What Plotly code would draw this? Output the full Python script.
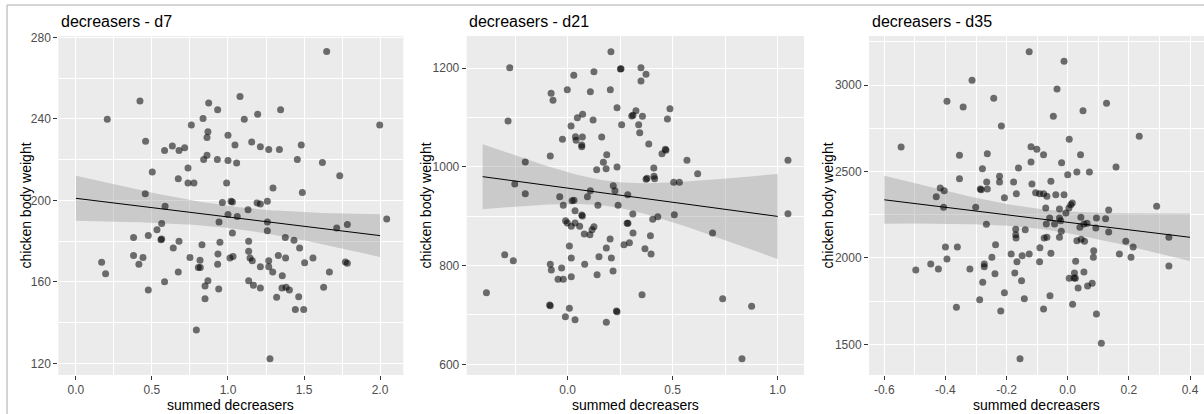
import numpy as np
import plotly.graph_objects as go

# ---------------- data ----------------
panel_titles = ["decreasers - d7", "decreasers - d21", "decreasers - d35"]
x_title = "summed decreasers"
y_title = "chicken body weight"

# tick values / labels of each panel
d7_xticks = [0.0, 0.5, 1.0, 1.5, 2.0]
d7_xlabels = ["0.0", "0.5", "1.0", "1.5", "2.0"]
d21_xticks = [0.0, 0.5, 1.0]
d21_xlabels = ["0.0", "0.5", "1.0"]
d35_xticks = [-0.6, -0.4, -0.2, 0.0, 0.2, 0.4]
d35_xlabels = ["-0.6", "-0.4", "-0.2", "0.0", "0.2", "0.4"]
d7_yticks = [120, 160, 200, 240, 280]
d21_yticks = [600, 800, 1000, 1200]
d35_yticks = [1500, 2000, 2500, 3000]

d7_x = [1.649, 0.421, 0.206, 0.873, 0.932, 1.079, 1.107, 1.195, 1.346, 1.998,
        0.836, 0.759, 0.868, 0.862, 0.458, 0.634, 0.583, 0.678, 0.715, 1.000,
        1.046, 1.156, 1.213, 1.268, 1.338, 1.482, 0.862, 0.840, 0.930, 1.000,
        1.057, 1.456, 1.621, 1.735, 0.502, 0.737, 0.673, 0.737, 0.776, 0.991,
        1.296, 0.456, 1.489, 0.963, 1.020, 1.029, 1.191, 1.213, 1.259, 0.586,
        1.132, 1.000, 1.061, 2.044, 0.564, 0.941, 1.259, 1.785, 0.533, 1.259,
        1.715, 1.029, 0.379, 0.476, 0.564, 0.559, 0.678, 0.947, 1.136, 1.377,
        1.434, 0.829, 0.640, 1.471, 1.136, 0.934, 1.331, 0.379, 0.441, 0.750,
        1.013, 1.033, 1.145, 1.379, 1.559, 0.169, 0.414, 0.816, 1.160, 1.268,
        1.504, 1.772, 1.785, 0.805, 0.818, 1.213, 1.268, 1.294, 0.673, 1.667,
        0.195, 1.357, 1.136, 0.583, 0.868, 1.167, 0.849, 1.213, 1.355, 1.382,
        1.404, 1.629, 0.476, 0.939, 0.849, 1.320, 1.465, 1.443, 1.498, 0.792,
        1.276, 0.932]
d7_y = [273.0, 248.7, 239.8, 247.8, 244.5, 251.0, 239.8, 242.2, 244.5, 237.0,
        240.2, 237.0, 233.7, 230.9, 229.0, 226.7, 224.5, 224.5, 225.8, 231.9,
        227.2, 228.6, 226.3, 224.9, 224.9, 227.2, 222.1, 220.0, 220.0, 219.6,
        218.3, 220.0, 218.6, 212.1, 213.9, 215.9, 210.6, 208.5, 208.5, 208.5,
        206.1, 203.3, 203.8, 199.0, 199.5, 199.2, 198.7, 198.2, 199.5, 197.1,
        195.4, 193.0, 192.1, 190.8, 188.7, 189.4, 189.4, 188.1, 185.6, 185.1,
        186.4, 184.0, 181.8, 182.7, 181.0, 180.7, 179.9, 179.4, 179.9, 181.8,
        180.4, 178.2, 176.6, 176.6, 175.0, 173.7, 173.0, 173.0, 172.0, 172.0,
        171.7, 172.5, 171.7, 171.7, 171.7, 169.6, 168.6, 170.6, 170.4, 170.4,
        169.4, 169.7, 169.1, 167.1, 167.1, 167.4, 167.4, 164.8, 164.8, 164.8,
        164.0, 163.0, 160.6, 160.1, 160.6, 158.4, 158.0, 157.0, 157.0, 157.3,
        156.0, 157.3, 156.0, 156.5, 151.7, 152.4, 152.7, 146.5, 146.5, 136.4,
        122.3, 168.6]

d21_x = [0.206, -0.276, 0.251, 0.254, 0.349, 0.373, 0.349, 0.029, 0.125, -0.002,
         0.108, 0.203, -0.079, -0.070, 0.235, 0.487, 0.325, 0.305, 0.311, 0.356,
         0.046, 0.071, 0.121, 0.475, -0.284, 0.016, 0.257, 0.338, 0.343, -0.025,
         0.037, 0.070, 0.040, 0.067, 0.067, 0.162, 0.386, 0.465, 0.449, 0.186,
         0.170, 0.138, 0.183, 0.235, -0.083, -0.202, 0.410, 0.373, 0.378, 0.411,
         0.414, 0.468, 0.568, 0.619, 0.505, 0.532, 1.049, -0.252, -0.202, 0.108,
         0.217, 0.225, 0.286, -0.038, 0.021, 0.030, 0.094, -0.021, 0.144, 0.240,
         0.035, 0.070, 0.067, -0.010, -0.002, 0.035, 0.017, 0.057, 0.125, 0.116,
         0.079, 0.106, 0.283, 0.287, 0.310, 0.429, 0.405, 0.508, 1.049, 0.690,
         0.311, 0.394, 0.202, 0.008, 0.184, 0.268, 0.294, 0.397, 0.368, -0.300,
         -0.259, 0.017, 0.149, 0.208, -0.083, -0.078, -0.029, -0.046, -0.021, 0.017,
         0.081, 0.140, 0.216, -0.387, -0.086, -0.083, 0.008, -0.011, 0.035, 0.184,
         0.235, 0.232, 0.354, 0.738, 0.876, 0.830]
d21_y = [1233.1, 1200.7, 1198.0, 1198.7, 1200.7, 1187.2, 1173.7, 1185.2, 1192.6, 1156.1,
         1152.1, 1156.1, 1148.7, 1134.5, 1119.7, 1117.7, 1113.6, 1102.8, 1104.2, 1102.1,
         1099.4, 1106.2, 1094.7, 1096.7, 1092.7, 1082.6, 1085.3, 1085.3, 1069.1, 1055.6,
         1061.0, 1060.3, 1053.5, 1044.1, 1040.7, 1060.3, 1046.1, 1035.3, 1026.5, 1024.5,
         1009.0, 994.1, 996.2, 999.5, 1021.8, 1009.7, 997.5, 974.6, 976.6, 980.7,
         975.9, 1033.3, 1013.0, 986.1, 968.5, 968.5, 1013.0, 965.1, 945.6, 951.6,
         961.8, 951.6, 943.5, 939.5, 931.4, 932.1, 939.5, 921.9, 921.9, 921.9,
         911.1, 900.3, 902.4, 890.9, 886.2, 886.2, 879.4, 879.4, 878.7, 872.7,
         863.9, 862.5, 885.5, 885.5, 904.4, 899.0, 893.6, 903.0, 905.1, 865.9,
         865.9, 860.5, 853.8, 839.6, 835.5, 842.3, 846.3, 823.4, 834.2, 822.0,
         809.9, 815.3, 818.0, 815.3, 802.5, 791.0, 795.0, 772.1, 772.1, 777.5,
         802.5, 781.5, 789.0, 745.1, 720.1, 718.8, 713.4, 696.5, 690.4, 685.0,
         706.6, 707.9, 741.1, 733.0, 717.4, 611.5]

d35_x = [-0.126, -0.012, -0.313, -0.035, -0.395, -0.342, -0.242, -0.047, 0.050, 0.127,
         -0.217, 0.005, 0.234, -0.545, -0.120, -0.101, -0.354, -0.263, -0.079, 0.042,
         -0.279, -0.161, -0.120, -0.020, 0.000, 0.030, 0.071, 0.158, -0.354, -0.265,
         -0.223, -0.223, -0.177, -0.117, -0.055, -0.417, -0.404, -0.430, -0.286, -0.283,
         -0.263, -0.207, -0.168, -0.105, -0.092, -0.079, -0.068, -0.039, -0.012, -0.406,
         -0.301, -0.072, -0.027, 0.004, 0.015, 0.010, 0.134, 0.291, -0.059, -0.027,
         -0.006, 0.043, 0.094, 0.124, -0.266, -0.070, -0.043, -0.023, 0.040, 0.053,
         0.063, 0.092, 0.134, -0.170, -0.170, -0.169, -0.139, -0.077, -0.068, -0.027,
         -0.021, 0.030, 0.044, 0.055, 0.190, 0.214, 0.331, -0.400, -0.361, -0.236,
         -0.091, -0.395, -0.248, -0.185, -0.149, -0.126, -0.055, 0.085, 0.084, 0.169,
         0.207, -0.448, -0.273, -0.273, -0.166, -0.092, 0.026, -0.497, -0.423, -0.320,
         -0.238, -0.278, -0.173, -0.151, -0.207, -0.288, -0.364, -0.219, -0.142, -0.058,
         -0.079, 0.022, 0.021, 0.005, 0.025, 0.053, 0.034, 0.065, 0.080, 0.016,
         0.094, 0.110, -0.156, 0.331]
d35_y = [3192.8, 3136.9, 3027.0, 2976.9, 2905.5, 2872.8, 2922.9, 2818.8, 2851.5, 2894.0,
         2762.9, 2685.7, 2703.1, 2641.4, 2643.3, 2627.9, 2593.2, 2602.8, 2597.0, 2597.0,
         2516.1, 2519.9, 2554.6, 2550.8, 2481.4, 2496.8, 2496.8, 2525.7, 2458.2, 2438.9,
         2471.7, 2438.9, 2438.9, 2427.4, 2442.8, 2404.2, 2388.8, 2354.1, 2398.5, 2394.6,
         2398.5, 2348.3, 2371.5, 2377.3, 2371.5, 2371.5, 2356.0, 2365.7, 2365.7, 2292.4,
         2292.4, 2288.6, 2282.8, 2288.6, 2317.5, 2307.8, 2277.0, 2298.2, 2230.7, 2230.7,
         2259.6, 2234.6, 2230.7, 2226.9, 2194.1, 2196.0, 2196.0, 2215.3, 2176.7, 2196.0,
         2199.9, 2172.9, 2149.7, 2165.2, 2134.3, 2115.0, 2163.2, 2115.0, 2118.9, 2118.9,
         2153.6, 2099.6, 2107.3, 2095.8, 2095.8, 2063.0, 2118.9, 2063.0, 2063.0, 2076.5,
         2059.1, 1993.6, 2003.2, 2022.5, 2012.9, 2022.5, 2026.4, 2041.8, 2003.2, 2022.5,
         2003.2, 1964.7, 1964.7, 1949.2, 1978.2, 1978.2, 1980.1, 1930.0, 1935.7, 1935.7,
         1908.7, 1858.6, 1912.6, 1868.3, 1798.8, 1758.4, 1714.0, 1692.8, 1764.1, 1781.5,
         1704.4, 1912.6, 1883.7, 1881.7, 1881.7, 1918.4, 1825.8, 1837.4, 1852.8, 1731.4,
         1675.5, 1505.8, 1417.1, 1953.1]

# fitted lm line: x extent and y at both ends
fit_x = [[0.0, 2.0], [-0.405, 1.0], [-0.6, 0.4]]
fit_y = [[201.0, 182.7], [980.0, 899.5], [2336.0, 2119.0]]
# half-width of the 95% band at both ends of the line
band_half = [[11.0, 10.5], [65.5, 86.5], [140.0, 136.0]]

panels_x = [d7_x, d21_x, d35_x]
panels_y = [d7_y, d21_y, d35_y]
xtick_vals = [d7_xticks, d21_xticks, d35_xticks]
xtick_text = [d7_xlabels, d21_xlabels, d35_xlabels]
ytick_vals = [d7_yticks, d21_yticks, d35_yticks]

# ---------------- layout geometry ----------------
W, H = 1204, 414
FONT = "Liberation Sans, Arial, sans-serif"
plot_px = [(58.3, 403.3), (466.7, 804.0), (869.0, 1204.0)]
plot_top, plot_bot = 36.0, 375.0
x_ranges = [[-0.116, 2.153], [-0.481, 1.1254], [-0.650, 0.4458]]
y_ranges = [[114.3, 280.65], [578.4, 1264.8], [1322.6, 3283.4]]
x_minor = [0.25, 0.25, 0.1]
y_minor = [20, 100, 250]
ytitle_px = [25, 425, 827]
title_px = [59, 467, 870]

fig = go.Figure()

T975 = 1.98
for i in range(3):
    xs = np.array(panels_x[i], dtype=float)
    ys = np.array(panels_y[i], dtype=float)
    ax = "" if i == 0 else str(i + 1)
    xa, ya = "x" + ax, "y" + ax

    x0f, x1f = fit_x[i]
    y0f, y1f = fit_y[i]
    slope = (y1f - y0f) / (x1f - x0f)
    gx = np.linspace(x0f, x1f, 100)
    gy = y0f + slope * (gx - x0f)

    # lm-style confidence band: hyperbola centred at mean(x)
    n = len(xs)
    xc = xs.mean()
    resid = ys - (y0f + slope * (xs - x0f))
    s = np.sqrt((resid ** 2).sum() / (n - 2))
    w0 = T975 * s / np.sqrt(n)
    hL, hR = band_half[i]
    k2 = np.mean([max(hL ** 2 - w0 ** 2, 0) / (x0f - xc) ** 2,
                  max(hR ** 2 - w0 ** 2, 0) / (x1f - xc) ** 2])
    hw = np.sqrt(w0 ** 2 + k2 * (gx - xc) ** 2)
    lo, hi = gy - hw, gy + hw

    fig.add_trace(go.Scatter(x=np.concatenate([gx, gx[::-1]]),
                             y=np.concatenate([hi, lo[::-1]]),
                             fill="toself", fillcolor="rgba(153,153,153,0.4)",
                             line=dict(width=0), mode="lines", hoverinfo="skip",
                             xaxis=xa, yaxis=ya, showlegend=False))
    fig.add_trace(go.Scatter(x=xs, y=ys, mode="markers",
                             marker=dict(size=7, color="rgba(0,0,0,0.55)", line=dict(width=0)),
                             xaxis=xa, yaxis=ya, showlegend=False))
    fig.add_trace(go.Scatter(x=gx, y=gy, mode="lines",
                             line=dict(color="black", width=1),
                             xaxis=xa, yaxis=ya, showlegend=False))

    x0, x1 = plot_px[i]
    common = dict(showline=False, zeroline=False, ticks="outside", ticklen=4,
                  tickwidth=1, tickcolor="#333333", showgrid=True,
                  gridcolor="white", gridwidth=1.1, automargin=False,
                  tickfont=dict(family=FONT, size=12, color="#4D4D4D"))
    fig.update_layout(**{
        "xaxis" + ax: dict(domain=[x0 / W, x1 / W], range=x_ranges[i],
                           anchor=ya, tickmode="array",
                           tickvals=xtick_vals[i], ticktext=xtick_text[i],
                           minor=dict(dtick=x_minor[i], tick0=0, showgrid=True,
                                      gridcolor="white", gridwidth=0.55, ticks=""),
                           **common),
        "yaxis" + ax: dict(domain=[1 - plot_bot / H, 1 - plot_top / H], range=y_ranges[i],
                           anchor=xa, tickmode="array",
                           tickvals=ytick_vals[i], ticktext=[str(v) for v in ytick_vals[i]],
                           minor=dict(dtick=y_minor[i], tick0=0, showgrid=True,
                                      gridcolor="white", gridwidth=0.55, ticks=""),
                           **common),
    })

    fig.add_shape(type="rect", xref="paper", yref="paper", layer="below",
                  x0=x0 / W, x1=x1 / W, y0=1 - plot_bot / H, y1=1 - plot_top / H,
                  fillcolor="#EBEBEB", line=dict(width=0))

    fig.add_annotation(text=panel_titles[i], xref="paper", yref="paper",
                       x=title_px[i] / W, y=1 - 21 / H, xanchor="left", yanchor="middle",
                       showarrow=False, font=dict(family=FONT, size=16, color="black"))
    fig.add_annotation(text=x_title, xref="paper", yref="paper",
                       x=(x0 + x1) / 2 / W, y=1 - 405 / H, xanchor="center", yanchor="middle",
                       showarrow=False, font=dict(family=FONT, size=14, color="black"))
    fig.add_annotation(text=y_title, xref="paper", yref="paper", textangle=-90,
                       x=ytitle_px[i] / W, y=1 - (plot_top + plot_bot) / 2 / H,
                       xanchor="center", yanchor="middle",
                       showarrow=False, font=dict(family=FONT, size=14, color="black"))

# outer frame lines
fig.add_shape(type="line", xref="paper", yref="paper", x0=7 / W, x1=1, y0=1 - 5 / H, y1=1 - 5 / H,
              line=dict(color="#AAAAAA", width=1))
fig.add_shape(type="line", xref="paper", yref="paper", x0=7 / W, x1=7 / W, y0=0, y1=1 - 5 / H,
              line=dict(color="#AAAAAA", width=1))

fig.update_layout(template="none", width=W, height=H,
                  margin=dict(l=0, r=0, t=0, b=0, pad=0, autoexpand=False),
                  paper_bgcolor="white", plot_bgcolor="rgba(0,0,0,0)",
                  showlegend=False)

fig.write_html("out.html")
